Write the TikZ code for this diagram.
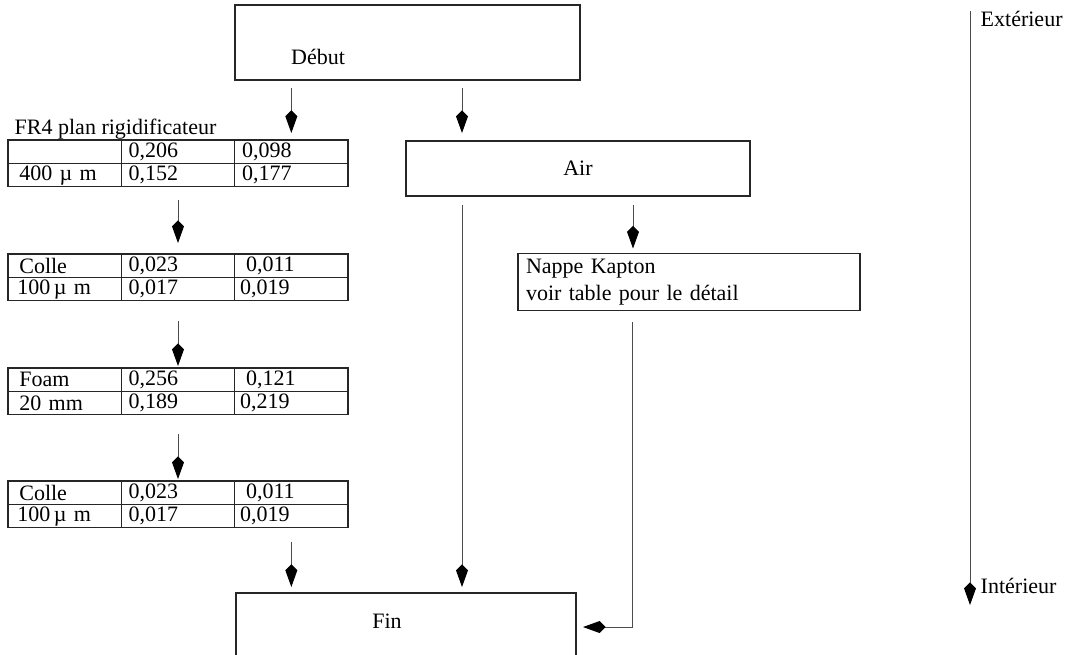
\documentclass[tikz,border=0pt]{standalone}
\usepackage{fontspec}
\setmainfont{Liberation Serif}
\usepackage{tikz}
\usetikzlibrary{positioning,arrows.meta}
\tikzset{
  box/.style={draw=black!85,line width=0.8pt,rectangle,outer sep=0pt},
  cell/.style={draw=black!85,line width=0.8pt,rectangle,outer sep=0pt,
    minimum height=17.6pt,text width=74pt,inner xsep=5.5pt,inner ysep=0pt,
    align=left},
  cell-first/.style={cell,execute at begin node=\hspace*{3pt}},
  arrow/.style={-{Kite[length=17pt,width=9pt,inset=4.5pt,color=black]},
    line width=0.75pt,draw=black!70},
}

\begin{document}
\begin{tikzpicture}[x=0.75pt,y=-0.75pt,font=\fontsize{16.5}{20}\selectfont]
  \useasboundingbox (0,0) rectangle (1070,655);
  \clip (0,0) rectangle (1070,655);
  % boites principales
  \node[box,minimum width=258.75pt,minimum height=56.25pt] (debut) at (407.5,42.5) {};
  \node (debut-lbl) at (318,57) {Début};
  \node[box,minimum width=258pt,minimum height=41.25pt] (air) at (578,168.5) {Air};
  \node[box,minimum height=42.75pt,text width=244.5pt,inner xsep=6pt,align=left]
    (nappe) at (689,282) {Nappe Kapton\\voir table pour le détail};
  \node[box,minimum width=255pt,minimum height=56.25pt] (fin) at (406,630.5) {};
  \node (fin-lbl) at (387,621) {Fin};

  % FR4
  \node[anchor=base west] (fr4-lbl) at (10,135) {FR4 plan rigidificateur};
  \node[cell-first,anchor=north west] (fr4-11) at (8,140) {};
  \node[cell,right=0pt of fr4-11] (fr4-12) {\raisebox{-4pt}{0,206}};
  \node[cell,right=0pt of fr4-12] (fr4-13) {\raisebox{1pt}{0,098}};
  \node[cell-first,below=0pt of fr4-11] (fr4-21) {\raisebox{1pt}{400 µ m}};
  \node[cell,right=0pt of fr4-21] (fr4-22) {\raisebox{-4pt}{0,152}};
  \node[cell,right=0pt of fr4-22] (fr4-23) {\raisebox{1pt}{0,177}};

  % colle
  \node[cell-first,anchor=north west] (colA-11) at (8,254) {Colle};
  \node[cell,right=0pt of colA-11] (colA-12) {\raisebox{1.5pt}{0,023}};
  \node[cell,right=0pt of colA-12] (colA-13) {\hspace*{3pt}\raisebox{-2.5pt}{0,011}};
  \node[cell-first,below=0pt of colA-11] (colA-21) {\hspace*{-1.5pt}100\,µ m};
  \node[cell,right=0pt of colA-21] (colA-22) {0,017};
  \node[cell,right=0pt of colA-22] (colA-23) {\hspace*{-1.5pt}\raisebox{2pt}{0,019}};

  % foam
  \node[cell-first,anchor=north west] (foam-11) at (8,368) {Foam};
  \node[cell,right=0pt of foam-11] (foam-12) {\raisebox{1pt}{0,256}};
  \node[cell,right=0pt of foam-12] (foam-13) {\hspace*{3pt}\raisebox{-2.5pt}{0,121}};
  \node[cell-first,below=0pt of foam-11] (foam-21) {20 mm};
  \node[cell,right=0pt of foam-21] (foam-22) {\raisebox{1pt}{0,189}};
  \node[cell,right=0pt of foam-22] (foam-23) {\hspace*{-1.5pt}\raisebox{-2.5pt}{0,219}};

  % colle
  \node[cell-first,anchor=north west] (colB-11) at (8,481) {Colle};
  \node[cell,right=0pt of colB-11] (colB-12) {\raisebox{1.5pt}{0,023}};
  \node[cell,right=0pt of colB-12] (colB-13) {\hspace*{3pt}\raisebox{-2.5pt}{0,011}};
  \node[cell-first,below=0pt of colB-11] (colB-21) {\hspace*{-1.5pt}100\,µ m};
  \node[cell,right=0pt of colB-21] (colB-22) {0,017};
  \node[cell,right=0pt of colB-22] (colB-23) {\hspace*{-1.5pt}\raisebox{2pt}{0,019}};

  % axe exterieur / interieur
  \coordinate (ext) at (970,11);
  \coordinate (int) at (970,605);
  \node[anchor=base west] (ext-lbl) at (976,27) {Extérieur};
  \node[anchor=base west] (int-lbl) at (976,593) {Intérieur};

  \draw[arrow,shorten <=6pt,shorten >=5.25pt] (debut.south -| fr4-13.north) -- (fr4-13.north);
  \draw[arrow,shorten <=6pt,shorten >=6pt] ([xshift=42pt]air.north west |- debut.south) -- ([xshift=42pt]air.north west);
  \draw[arrow,shorten <=9.75pt,shorten >=8.25pt] (fr4-22.south) -- (colA-12.north);
  \draw[arrow,shorten <=15pt,shorten >=1.5pt] (colA-22.south) -- (foam-12.north);
  \draw[arrow,shorten <=14.25pt,shorten >=1.5pt] (foam-22.south) -- (colB-12.north);
  \draw[arrow,shorten <=10.5pt,shorten >=4.5pt] (colB-23.south) -- (colB-23.south |- fin.north);
  \draw[arrow,shorten <=6.75pt,shorten >=4.5pt] ([xshift=42pt]air.south west) -- ([xshift=42pt]air.south west |- fin.north);
  \draw[arrow,shorten <=6.75pt,shorten >=3.75pt] ([xshift=86.25pt]nappe.north west |- air.south) -- ([xshift=86.25pt]nappe.north west);
  \draw[arrow,shorten <=9pt,shorten >=5.25pt] ([xshift=85.5pt]nappe.south west) |- ([yshift=2.6pt]fin.east);
  \draw[arrow] (ext) -- (int);
\end{tikzpicture}
\end{document}
